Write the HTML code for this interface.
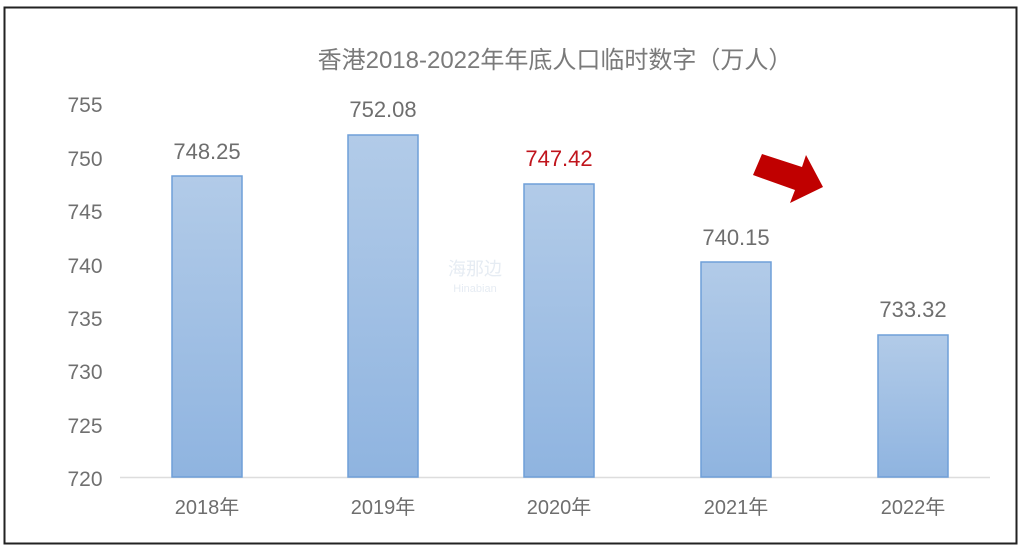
<!DOCTYPE html>
<html><head><meta charset="utf-8"><style>
html,body{margin:0;padding:0;background:#fff;}
</style></head><body>
<svg width="1024" height="548" xmlns="http://www.w3.org/2000/svg" font-family="'Liberation Sans','Noto Sans CJK SC',sans-serif">
<defs><linearGradient id="g" x1="0" y1="0" x2="0" y2="1"><stop offset="0" stop-color="#b2cbe8"/><stop offset="1" stop-color="#8fb4e0"/></linearGradient></defs>
<rect x="0" y="0" width="1024" height="548" fill="#fff"/>
<rect x="4.5" y="7.5" width="1012" height="536" fill="none" stroke="#222" stroke-width="2"/>
<text x="555" y="68" text-anchor="middle" font-size="24" fill="#7a7a7a">香港2018-2022年年底人口临时数字（万人）</text>
<g font-size="21" fill="#707070" text-anchor="middle">
<text x="85" y="112">755</text><text x="85" y="166">750</text><text x="85" y="219">745</text><text x="85" y="273">740</text>
<text x="85" y="326">735</text><text x="85" y="379">730</text><text x="85" y="433">725</text><text x="85" y="486">720</text>
</g>
<line x1="120" y1="477.5" x2="990" y2="477.5" stroke="#ddd" stroke-width="1.5"/>
<g fill="url(#g)" stroke="#6f9fd8" stroke-width="1.5">
<rect x="172" y="176" width="70" height="301"/>
<rect x="348" y="135" width="70" height="342"/>
<rect x="524" y="184" width="70" height="293"/>
<rect x="701" y="262" width="70" height="215"/>
<rect x="878" y="335" width="70" height="142"/>
</g>
<g font-size="22" fill="#6e6e6e" text-anchor="middle">
<text x="207" y="159">748.25</text>
<text x="383" y="117">752.08</text>
<text x="559" y="166" fill="#c0141c">747.42</text>
<text x="736" y="245">740.15</text>
<text x="913" y="317">733.32</text>
</g>
<g font-size="20" fill="#6e6e6e" text-anchor="middle">
<text x="207" y="514">2018年</text><text x="383" y="514">2019年</text><text x="559" y="514">2020年</text><text x="736" y="514">2021年</text><text x="913" y="514">2022年</text>
</g>
<polygon points="753,175 762,154 802,167 806,155 823,187 790,203 795,190" fill="#c00000"/>
<text x="475" y="275" font-size="18" fill="#e6ecf3" text-anchor="middle">海那边</text>
<text x="475" y="292" font-size="11" fill="#e6ecf3" text-anchor="middle">Hinabian</text>
</svg>
</body></html>
